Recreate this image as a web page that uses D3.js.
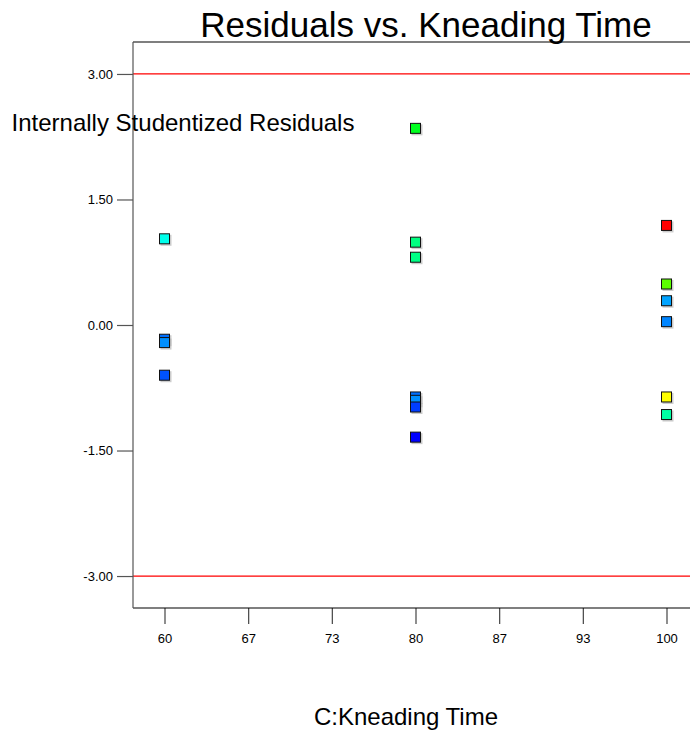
<!DOCTYPE html>
<html>
<head>
<meta charset="utf-8">
<script src="https://cdn.jsdelivr.net/npm/d3@7"></script>
<style>
  html, body { margin: 0; padding: 0; background: #fff; }
  svg { display: block; font-family: "Liberation Sans", Arial, sans-serif; }
</style>
</head>
<body>
<svg id="chart" width="690" height="731"></svg>
<script>
// ---- data ----
const kneadingTime = [60, 60, 60, 60, 80, 80, 80, 80, 80, 80, 80, 100, 100, 100, 100, 100, 100];
const residuals    = [1.03, -0.17, -0.21, -0.60, 2.35, 0.99, 0.81, -0.86, -0.90, -0.98, -1.34, 1.19, 0.49, 0.29, 0.04, -0.86, -1.07];
const responseLevel = [0.27, 0.11, 0.14, 0.08, 0.47, 0.375, 0.37, 0.11, 0.14, 0.06, 0.0, 1.0, 0.59, 0.16, 0.13, 0.75, 0.34];
const xTickValues = [60, 66.667, 73.333, 80, 86.667, 93.333, 100];
const xTickLabels = ["60", "67", "73", "80", "87", "93", "100"];
const yTickValues = [3, 1.5, 0, -1.5, -3];
const yTickLabels = ["3.00", "1.50", "0.00", "-1.50", "-3.00"];
const limitLines = [3, -3];
const title = "Residuals vs. Kneading Time";
const xTitle = "C:Kneading Time";
const yTitle = "Internally Studentized Residuals";

// ---- layout ----
const svg = d3.select("#chart");
const plotLeft = 133, plotTop = 42, plotBottom = 608, plotRight = 700;

const x = d3.scaleLinear().domain([60, 100]).range([164.5, 666.5]);
const y = d3.scaleLinear().domain([-3.382, 3.382]).range([plotBottom, plotTop]);
const color = d3.scaleLinear()
  .domain([0, 0.25, 0.5, 0.75, 1])
  .range(["#0000ff", "#00ffff", "#00ff00", "#ffff00", "#ff0000"]);

// title
svg.append("text")
  .attr("x", 426).attr("y", 37)
  .attr("text-anchor", "middle")
  .attr("font-size", 35)
  .attr("fill", "#000")
  .text(title);

// frame line (top)
svg.append("line").attr("x1", plotLeft).attr("x2", plotRight)
  .attr("y1", plotTop).attr("y2", plotTop)
  .attr("stroke", "#000").attr("stroke-width", 1.2);

// limit lines
svg.selectAll("line.limit").data(limitLines).enter().append("line")
  .attr("class", "limit")
  .attr("x1", plotLeft).attr("x2", plotRight)
  .attr("y1", d => y(d)).attr("y2", d => y(d))
  .attr("stroke", "#ff0000").attr("stroke-width", 1.2);

// x axis
const xAxis = d3.axisBottom(x)
  .tickValues(xTickValues)
  .tickFormat((d, i) => xTickLabels[i])
  .tickSize(16)
  .tickPadding(10);
const gx = svg.append("g")
  .attr("transform", `translate(0,${plotBottom})`)
  .call(xAxis);
gx.select(".domain").remove();
gx.append("line").attr("x1", plotLeft).attr("x2", plotRight)
  .attr("y1", 0).attr("y2", 0)
  .attr("stroke", "#000").attr("stroke-width", 1.2);
gx.selectAll(".tick line").attr("stroke", "#444").attr("stroke-width", 1.2);
gx.selectAll(".tick text")
  .attr("font-size", 13)
  .attr("font-family", "Liberation Sans, Arial, sans-serif")
  .attr("fill", "#000");

// y axis
const yAxis = d3.axisLeft(y)
  .tickValues(yTickValues)
  .tickFormat((d, i) => yTickLabels[i])
  .tickSize(16)
  .tickPadding(4);
const gy = svg.append("g")
  .attr("transform", `translate(${plotLeft},0)`)
  .call(yAxis);
gy.select(".domain").remove();
gy.append("line").attr("x1", 0).attr("x2", 0)
  .attr("y1", plotTop).attr("y2", plotBottom)
  .attr("stroke", "#555").attr("stroke-width", 1.2);
gy.selectAll(".tick line").attr("stroke", "#555").attr("stroke-width", 1.2);
gy.selectAll(".tick text")
  .attr("font-size", 13)
  .attr("font-family", "Liberation Sans, Arial, sans-serif")
  .attr("fill", "#000");

// axis titles
svg.append("text")
  .attr("x", 183).attr("y", 131)
  .attr("text-anchor", "middle")
  .attr("font-size", 24)
  .attr("fill", "#000")
  .text(yTitle);

svg.append("text")
  .attr("x", 406).attr("y", 725)
  .attr("text-anchor", "middle")
  .attr("font-size", 24)
  .attr("fill", "#000")
  .text(xTitle);

// points
const pts = d3.range(kneadingTime.length);
const size = 10;
svg.selectAll("rect.shadow").data(pts).enter().append("rect")
  .attr("class", "shadow")
  .attr("x", i => x(kneadingTime[i]) - size / 2 + 1)
  .attr("y", i => y(residuals[i]) - size / 2 + 1)
  .attr("width", size + 1).attr("height", size + 1)
  .attr("fill", "#aaa").attr("opacity", 0.6);
svg.selectAll("rect.pt").data(pts).enter().append("rect")
  .attr("class", "pt")
  .attr("x", i => x(kneadingTime[i]) - size / 2)
  .attr("y", i => y(residuals[i]) - size / 2)
  .attr("width", size).attr("height", size)
  .attr("fill", i => color(responseLevel[i]))
  .attr("stroke", "#111").attr("stroke-width", 1);
</script>
</body>
</html>
